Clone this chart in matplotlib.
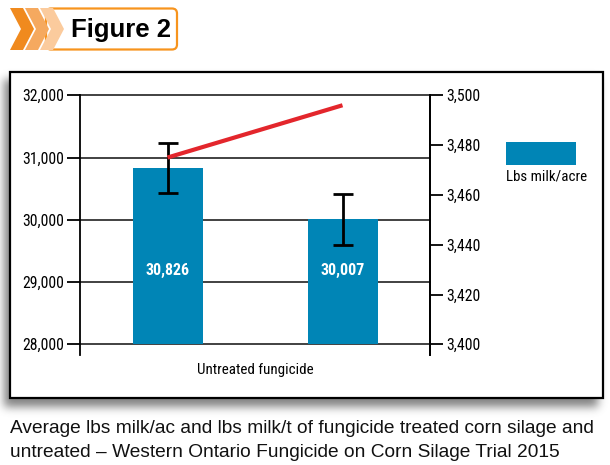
import numpy as np
import matplotlib
matplotlib.use("Agg")
import matplotlib.pyplot as plt
from matplotlib import font_manager
from matplotlib.patches import Rectangle, Polygon, FancyBboxPatch
from matplotlib.ticker import FuncFormatter

# ---------------- data ----------------
categories = ["Untreated", "fungicide"]
milk_per_acre = [30826, 30007]
milk_per_acre_err = [400, 405]
milk_per_ton = [3475, 3496]
left_ticks = [28000, 29000, 30000, 31000, 32000]
right_ticks = [3400, 3420, 3440, 3460, 3480, 3500]
legend_label = "Lbs milk/acre"
title_text = "Figure 2"
caption_lines = [
    "Average lbs milk/ac and lbs milk/t of fungicide treated corn silage and",
    "untreated \u2013 Western Ontario Fungicide on Corn Silage Trial 2015",
]

# ---------------- fonts ----------------
avail = {f.name for f in font_manager.fontManager.ttflist}
def pick(*names):
    for n in names:
        if n in avail:
            return n
    return "DejaVu Sans"
NARROW = pick("Liberation Sans Narrow", "Roboto Condensed", "DejaVu Sans")
REG = pick("Liberation Sans", "Roboto", "DejaVu Sans")

W, H = 610, 465
fig = plt.figure(figsize=(W / 100, H / 100), dpi=100)

# background / decoration axes in pixel coords
bg = fig.add_axes([0, 0, 1, 1], zorder=0)
bg.set_xlim(0, W)
bg.set_ylim(H, 0)
bg.axis("off")

# shadow (blurred rectangle)
yy, xx = np.mgrid[0:H, 0:W]
mask = ((xx >= 4) & (xx <= 597) & (yy >= 80) & (yy <= 406)).astype(float)
k = np.exp(-0.5 * (np.arange(-12, 13) / 4.5) ** 2)
k /= k.sum()
blur = np.apply_along_axis(lambda r: np.convolve(r, k, mode="same"), 1, mask)
blur = np.apply_along_axis(lambda c: np.convolve(c, k, mode="same"), 0, blur)
rgba = np.zeros((H, W, 4))
rgba[..., :3] = 0.35
rgba[..., 3] = blur * 0.75
bg.imshow(rgba, extent=(0, W, H, 0), zorder=1, interpolation="bilinear")

# chart box
bg.add_patch(Rectangle((10, 72), 593, 326, facecolor="white", edgecolor="black",
                       lw=1.6, zorder=2))

# header
bg.add_patch(FancyBboxPatch((46, 8.5), 131, 41, boxstyle="round,pad=0,rounding_size=5",
                            facecolor="white", edgecolor="#F7941D", lw=1.6, zorder=3))
chev_cols = ["#F08A1E", "#F5A95F", "#FBCB9D"]
for i, c in reversed(list(enumerate(chev_cols))):
    o = 10 + 15 * i
    w, d = 13, 11
    pts = [(o, 8), (o + w, 8), (o + w + d, 29), (o + w, 50), (o, 50), (o + d, 29)]
    bg.add_patch(Polygon(pts, closed=True, facecolor=c, edgecolor="none", zorder=4))
bg.text(71, 30, title_text, fontsize=18.5, fontweight="bold", family=REG,
        ha="left", va="center", color="black", zorder=5)

# caption
for i, line in enumerate(caption_lines):
    bg.text(10, 428 + 24 * i, line, fontsize=13.8, family=REG, ha="left",
            va="center", color="#111111", zorder=5)

# ---------------- chart ----------------
px_top, px_base, px_bot = 95.3, 344.3, 355.0
per1000 = (px_base - px_top) / 4.0
ymin = 28000 - (px_bot - px_base) / per1000 * 1000
ax = fig.add_axes([80 / W, (H - px_bot) / H, 350 / W, (px_bot - px_top) / H], zorder=2)
ax.set_facecolor("none")
ax.set_xlim(-0.5, 1.5)
ax.set_ylim(ymin, 32000)

x = np.arange(len(milk_per_acre))
bar_color = "#0085B6"
base = left_ticks[0]
ax.bar(x, np.array(milk_per_acre) - base, bottom=base, width=0.4, color=bar_color,
       zorder=2)
ax.errorbar(x, milk_per_acre, yerr=milk_per_acre_err, fmt="none", ecolor="black",
            elinewidth=2, capsize=7.5, capthick=2, zorder=4)
for xi, v in zip(x, milk_per_acre):
    ax.text(xi, 29180, f"{v:,}", color="white", fontsize=11.5, fontweight="bold",
            family=NARROW, ha="center", va="center", zorder=5)

for t in left_ticks:
    ax.axhline(t, color="#333333", lw=1.3, zorder=1, clip_on=False)

for s in ["top", "bottom"]:
    ax.spines[s].set_visible(False)
for s in ["left", "right"]:
    ax.spines[s].set_linewidth(1.3)
ax.set_yticks(left_ticks)
ax.yaxis.set_major_formatter(FuncFormatter(lambda v, p: f"{int(v):,}"))
ax.tick_params(axis="y", direction="out", length=9.5, width=1.3, pad=2,
               labelsize=11.3)
for lab in ax.get_yticklabels():
    lab.set_family(NARROW)
ax.set_xticks([])
ax.set_xlabel(" ".join(categories), fontsize=10.8, family=NARROW, labelpad=6)

ax2 = ax.twinx()
ax2.set_ylim(3400 + (ymin - 28000) / 40.0, 3500)
ax2.plot(x, milk_per_ton, color="#E3262C", lw=3, solid_capstyle="butt", zorder=5)
for s in ["top", "bottom", "left"]:
    ax2.spines[s].set_visible(False)
ax2.spines["right"].set_linewidth(1.3)
ax2.set_yticks(right_ticks)
ax2.yaxis.set_major_formatter(FuncFormatter(lambda v, p: f"{int(v):,}"))
ax2.tick_params(axis="y", direction="out", length=9.5, width=1.3, pad=2,
                labelsize=11.3)
for lab in ax2.get_yticklabels():
    lab.set_family(NARROW)

# legend (drawn in pixel coords)
bg.add_patch(Rectangle((506, 142), 70, 23, facecolor=bar_color, edgecolor="none",
                       zorder=5))
bg.text(506, 176, legend_label, fontsize=10.8, family=NARROW, ha="left",
        va="center", zorder=5)

fig.savefig("out.png", dpi=100)
